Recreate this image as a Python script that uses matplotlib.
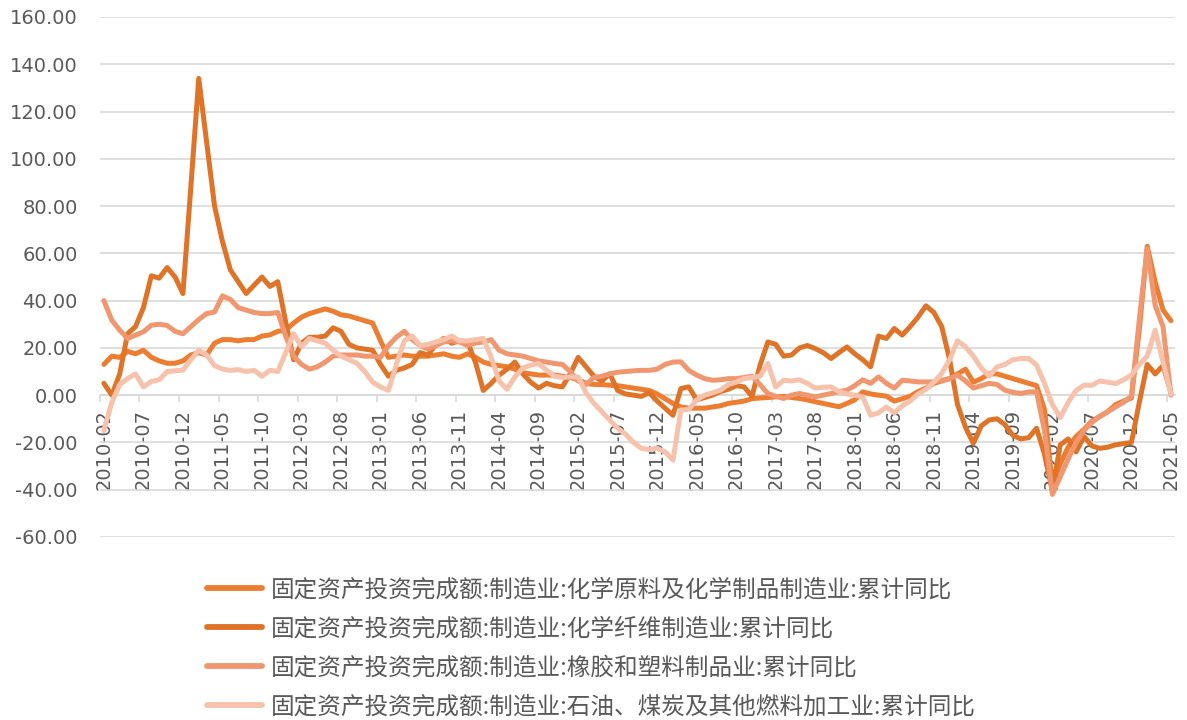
import matplotlib
matplotlib.use("Agg")
import matplotlib.pyplot as plt
import numpy as np
import pandas as pd
from matplotlib.lines import Line2D

# monthly axis 2010-02 .. 2021-05
months = pd.period_range("2010-02", "2021-05", freq="M").strftime("%Y-%m").tolist()

names = [
    "固定资产投资完成额:制造业:化学原料及化学制品制造业:累计同比",
    "固定资产投资完成额:制造业:化学纤维制造业:累计同比",
    "固定资产投资完成额:制造业:橡胶和塑料制品业:累计同比",
    "固定资产投资完成额:制造业:石油、煤炭及其他燃料加工业:累计同比",
]

chem_raw = [
    13, 16.5, 16, 18.5, 17.5, 19, 16, 14.5, 13.5, 13.5,
    14.5, 17, 18, 17, 22, 23.5, 23.5, 23, 23.5, 23.5,
    25, 25.5, 27, 27.5, 30.5, 33, 34.5, 35.5, 36.5, 35.5,
    34, 33.5, 32.5, 31.5, 30.5, 23, 16, 16.5, 17, 16.5,
    16.5, 16.5, 17, 17.5, 16.5, 16, 17.5, 16, 14, 13,
    12.5, 12, 11, 9.5, 9, 8.5, 8.5, 8.5, 8, 7.5,
    6.5, 5, 4.5, 4.5, 4.2, 4, 3.5, 3, 2.5, 2,
    0.5, -1.5, -3.5, -5, -5.5, -5.5, -5.5, -5, -4.5, -3.5,
    -3, -2.5, -1.5, -1.2, -1, -0.7, -0.5, -1, -1.4, -2,
    -2.8, -3.5, -4.2, -4.9, -3.5, -2, 1.4, 0.5, 0, -0.4,
    -2.5, -1.5, -0.5, 1.5, 3, 5, 6, 7, 9, 11,
    5.5, 7, 9, 9, 8, 7, 6, 5, 4, -6,
    -38, -29, -22, -17.5, -14.5, -11, -9, -7, -4, -2.5,
    -1.2, 28, 63, 48, 36, 31.5,
]

chem_fiber = [
    5, 0, 9, 26, 29, 37, 50.5, 49.5, 54, 50,
    43, 88, 134, 107, 80, 65, 53, 48, 43, 46.5,
    50, 46, 48, 31, 15, 22, 24.5, 24.5, 25, 28.5,
    27, 21.5, 20, 19.5, 19, 13, 8, 10.5, 11.5, 13,
    18, 17, 21.5, 24, 22, 23, 22.5, 14, 2, 5,
    8.5, 11, 14, 9, 5.5, 3, 5, 4, 3.5, 9,
    16, 12, 8, 6, 9, 2, 0.5, 0, -0.5, 1,
    -2.5, -5.5, -8.5, 2.8, 3.5, -2, -1, 0, 1.5, 2.5,
    4, 3.5, -0.5, 12.5, 22.5, 21.5, 16.5, 17, 20, 21,
    19.7, 18, 15.5, 18, 20.4, 17.5, 15, 12, 25, 24,
    28.2, 25.4, 29, 33, 37.8, 35, 29, 15, -4, -13.5,
    -20.4, -13, -10.5, -10, -12.5, -17, -18.5, -18, -14, -25,
    -40.5, -21, -18.5, -24, -17.5, -21.5, -22.5, -22, -21, -20.5,
    -20, -3, 13, 9, 12.5, 1,
]

rubber = [
    40, 31.7, 27.5, 24, 25.4, 26.8, 29.6, 30, 29.5, 27,
    26, 29, 32, 34.5, 35.2, 42, 40.5, 37, 36, 35,
    34.5, 34.5, 35, 25, 16.5, 13, 11, 12, 14, 16.5,
    17, 17, 17, 16.5, 16.5, 16, 21, 24.5, 27, 23.5,
    21, 19.5, 21, 22.5, 23, 22.5, 21, 22, 22.5, 23.5,
    19, 17.5, 17, 16.5, 15.5, 14.5, 14, 13.4, 13, 10,
    6, 4.5, 7.5, 8, 9, 9.7, 10, 10.3, 10.5, 10.5,
    11, 13, 14, 14.1, 10.5, 8.5, 7, 6.3, 6.5, 7,
    7, 7.5, 8, 4.5, 0.7, -0.5, -1.4, 0, 0.7, 0,
    -0.7, 0, 0.7, 1.5, 2.1, 4, 6.5, 5, 7.7, 5,
    3, 6.3, 6, 5.6, 5.6, 5.6, 6.3, 7, 8.5, 6,
    3, 4, 5, 4.5, 2.1, 1.2, 0.7, 1.4, 1.4, -15,
    -42, -34.5, -27, -20, -15, -11.5, -9, -7, -5, -3,
    -0.5, 32, 62, 38, 29, 0,
]

petroleum = [
    -15, -3, 4.5, 7, 9, 3.5, 5.8, 6.5, 10, 10.3,
    10.6, 15, 19, 17, 12.5, 11, 10.5, 10.8, 10, 10.5,
    8, 10.5, 10, 18, 26, 20.5, 24, 23, 22, 19,
    16.5, 15, 13.5, 10, 5.5, 3.5, 2, 13, 23, 25,
    21, 21.5, 22.5, 23.5, 25, 23, 23, 23.5, 24, 16,
    6, 2.5, 7.7, 11.5, 12.7, 13.4, 10.6, 8, 7.5, 7.7,
    7.7, 1, -3.5, -7, -10.5, -14, -16.5, -20, -22.5, -23,
    -22.5, -24, -27.5, -6.3, -6, -2, 0, 1, 2.1, 4.5,
    5.5, 7, 7.5, 8, 13.4, 3.5, 6.3, 6, 6.5, 5,
    3, 3.3, 3.5, 1.5, 0.5, 0, -0.7, -8.5, -7.5, -5,
    -7.5, -4.5, -2.5, 0.5, 2.5, 5.5, 9.2, 15, 23, 20.5,
    16.5, 11.5, 8, 12, 13, 15, 15.5, 15.5, 12.7, 5,
    -4, -9.5, -3, 2, 4.2, 4.2, 6, 5.5, 4.9, 6.5,
    8.5, 13, 16.5, 27.5, 14, 0.5,
]

series = [chem_raw, chem_fiber, rubber, petroleum]
colors = ["#ED7D31", "#DF7429", "#F19770", "#F7C2AB"]

GRID = "#D9D9D9"
TEXT = "#595959"

fig = plt.figure(figsize=(11.87, 7.2), dpi=100)
ax = fig.add_axes([0.0842, 0.2542, 0.9056, 0.7222])

x = np.arange(len(months))
for vals, c in zip(series, colors):
    ax.plot(x, vals, color=c, lw=3.6, solid_joinstyle="round",
            solid_capstyle="round", zorder=3)

ax.set_xlim(-0.5, len(months) - 0.5)
ax.set_ylim(-60, 160)
yt = np.arange(-60, 161, 20)
ax.set_yticks(yt)
ax.set_yticklabels([f"{v:.2f}" for v in yt], fontsize=14, color=TEXT,
                   family="DejaVu Sans")
ax.tick_params(axis="y", length=0, pad=16)
ax.grid(axis="y", color=GRID, lw=1.2, zorder=0)

for s in ("left", "right", "top"):
    ax.spines[s].set_visible(False)
ax.spines["bottom"].set_position(("data", 0))
ax.spines["bottom"].set_color(GRID)
ax.spines["bottom"].set_linewidth(1.2)

lab_pos = np.arange(0, len(months), 5)
ax.set_xticks(lab_pos)
ax.set_xticklabels([months[i] for i in lab_pos], rotation=90, fontsize=14,
                   color=TEXT, family="DejaVu Sans", va="top", ha="center")
ax.set_xticks(np.arange(-0.5, len(months) - 1, 5), minor=True)
ax.tick_params(axis="x", which="major", length=0, pad=10)
ax.tick_params(axis="x", which="minor", length=5, width=1.2, color=GRID,
               direction="out")

handles = [Line2D([0], [0], color=c, lw=4.2, solid_capstyle="round")
           for c in colors]
leg = fig.legend(handles, names, loc="upper left",
                 bbox_to_anchor=(0.1744, 0.197), frameon=False,
                 prop={"family": ["Noto Sans CJK SC", "DejaVu Sans"], "size": 17},
                 handlelength=2.35, handletextpad=0.35, labelspacing=0.68,
                 borderpad=0, borderaxespad=0)
for t in leg.get_texts():
    t.set_color(TEXT)

fig.savefig("out.png", dpi=100)
